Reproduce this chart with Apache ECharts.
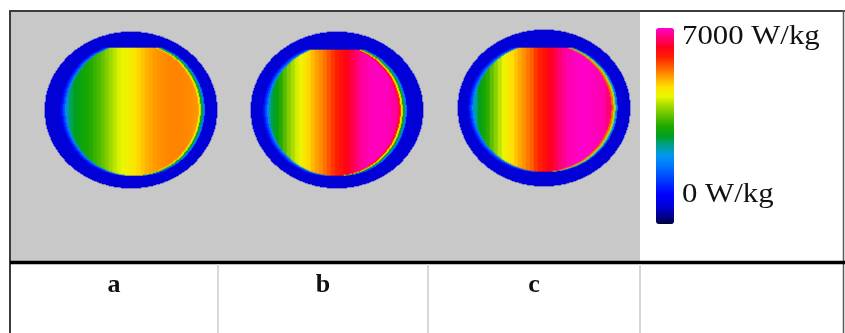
<!DOCTYPE html>
<html>
<head>
<meta charset="utf-8">
<script src="https://cdn.jsdelivr.net/npm/echarts@6/dist/echarts.min.js"></script>
<style>
  html, body { margin: 0; padding: 0; background: #fff; }
  #chart { width: 845px; height: 333px; }
</style>
</head>
<body>
<div id="chart"></div>
<script>
// labels of the table row under the discs
const panelLabels = ['a', 'b', 'c'];
const scaleLabels = ['7000 W/kg', '0 W/kg'];
const scaleMin = 0;
const scaleMax = 7000;

// W/kg read across each disc, one value per 4 px column (= 4 heatmap cells)
const profileA = [650, 650, 650, 650, 650, 2700, 2950, 3150, 3250, 3350, 3450, 3550, 3650, 3750, 3900,
  4050, 4200, 4350, 4480, 4580, 4650, 4750, 4850, 4950, 5050, 5150, 5220, 5280, 5320, 5350,
  5380, 5400, 5400, 5400, 5400, 5380, 5350, 5320, 5300, 650, 650, 650, 650];
const profileB = [650, 650, 650, 650, 2700, 3050, 3300, 3550, 3800, 4050, 4250, 4450, 4620, 4800, 4950,
  5100, 5250, 5350, 5500, 5650, 5800, 5950, 6080, 6200, 6350, 6500, 6650, 6780, 6850, 6900,
  6950, 6950, 6950, 6950, 6900, 6850, 6800, 6600, 650, 650, 650, 650, 650];
const profileC = [650, 650, 650, 650, 2800, 3200, 3400, 3600, 3850, 4100, 4350, 4580, 4750, 4900, 5050,
  5200, 5320, 5450, 5600, 5800, 5950, 6080, 6200, 6350, 6500, 6650, 6780, 6880, 6930, 6960,
  6980, 6980, 6980, 6960, 6930, 6900, 6850, 6700, 6600, 650, 650, 650, 650];

// blue rim around the hot zone
const rimValues = [650, 650, 650];
// fringe right of the hot zone (going outward) and left of it, 2 cells each
const edgeRightA = [4650, 3300, 2300];
const edgeRightB = [6100, 4900, 3300, 2300];
const edgeRightC = [5600, 4300, 2400];
const edgeLeftA = [2300, 1700, 1200];
const edgeLeftB = [2300, 1700, 1200];
const edgeLeftC = [2300, 1700, 1200];

// hot zone outline in cells: centre x, centre y, radius x, radius y, first row
const zoneA = [88, 78, 65.8, 66, 16];
const zoneB = [83, 79, 64.8, 65, 18];
const zoneC = [85, 78, 68.6, 64, 18];

const COLS = 172;
const ROWS = 156;
const colIds = [];
const rowIds = [];
for (let i = 0; i < COLS; i++) colIds.push(i);
for (let j = 0; j < ROWS; j++) rowIds.push(j);

function buildDisc(profile, zone, rim, edgeL, edgeR) {
  const [zx, zy, zrx, zry, top] = zone;
  const out = [];
  for (let j = 0; j < ROWS; j++) {
    const vy = (j + 0.5 - ROWS / 2) / (ROWS / 2);
    let lo = 1, hi = 0;
    const dy = (j + 0.5 - zy) / zry;
    if (j >= top && Math.abs(dy) <= 1) {
      const half = zrx * Math.sqrt(1 - dy * dy);
      lo = Math.ceil(zx - half - 0.5);
      hi = Math.floor(zx + half - 0.5);
    }
    const hasZone = lo <= hi;
    for (let i = 0; i < COLS; i++) {
      const vx = (i + 0.5 - COLS / 2) / (COLS / 2);
      if (vx * vx + vy * vy > 1) continue;
      let v = rim;
      if (hasZone) {
        const r = Math.floor((i - hi - 1) / 2);
        const l = Math.floor((lo - i - 1) / 2);
        if (i >= lo && i <= hi) v = profile[Math.floor(i / 4)];
        else if (i > hi && r < edgeR.length) v = edgeR[r];
        else if (i < lo && l < edgeL.length) v = edgeL[l];
      }
      out.push([i, j, v]);
    }
  }
  return out;
}

const discs = [
  buildDisc(profileA, zoneA, rimValues[0], edgeLeftA, edgeRightA),
  buildDisc(profileB, zoneB, rimValues[1], edgeLeftB, edgeRightB),
  buildDisc(profileC, zoneC, rimValues[2], edgeLeftC, edgeRightC)
];

const gridPos = [
  { left: 45, top: 32 },
  { left: 251, top: 32 },
  { left: 458, top: 30 }
];

const colorRamp = ['#000040', '#0000a0', '#0000e0', '#0000ff', '#0028ff', '#0050ff', '#0078ff',
  '#0098f0', '#00a090', '#00a020', '#20a800', '#60c000', '#a0d800', '#e8f800', '#ffe000',
  '#ffa000', '#ff6000', '#ff2000', '#ff0020', '#ff0070', '#ff00cc'];

const chart = echarts.init(document.getElementById('chart'), null, { renderer: 'canvas' });

const serif = "'Liberation Serif', 'DejaVu Serif', serif";
const cellCenters = [114, 323, 534];
const lineColor = '#3c3c3c';

const graphic = [
  { type: 'rect', z: 0, shape: { x: 11, y: 12, width: 629, height: 249 }, style: { fill: '#c8c8c8' } },
  { type: 'line', z: 5, shape: { x1: 9, y1: 11, x2: 845, y2: 11 }, style: { stroke: lineColor, lineWidth: 2 } },
  { type: 'line', z: 5, shape: { x1: 10, y1: 10, x2: 10, y2: 333 }, style: { stroke: lineColor, lineWidth: 2 } },
  { type: 'line', z: 5, shape: { x1: 843.5, y1: 10, x2: 843.5, y2: 333 }, style: { stroke: '#5a5a5a', lineWidth: 1.5 } },
  { type: 'line', z: 5, shape: { x1: 10, y1: 262.5, x2: 845, y2: 262.5 }, style: { stroke: '#000', lineWidth: 3.5 } }
];
[218, 428, 640].forEach(x => {
  graphic.push({ type: 'line', z: 5, shape: { x1: x, y1: 264, x2: x, y2: 333 }, style: { stroke: '#d8d8d8', lineWidth: 2 } });
});
panelLabels.forEach((t, k) => {
  graphic.push({
    type: 'text', z: 5, x: cellCenters[k], y: 285,
    style: { text: t, fill: '#111', font: 'bold 26px ' + serif, align: 'center', verticalAlign: 'middle' }
  });
});
graphic.push({
  type: 'text', z: 5, x: 682, y: 37, scaleX: 1.1,
  style: { text: scaleLabels[0], fill: '#111', font: '28px ' + serif, align: 'left', verticalAlign: 'middle' }
});
graphic.push({
  type: 'text', z: 5, x: 682, y: 195, scaleX: 1.1,
  style: { text: scaleLabels[1], fill: '#111', font: '28px ' + serif, align: 'left', verticalAlign: 'middle' }
});

const option = {
  backgroundColor: '#fff',
  animation: false,
  grid: gridPos.map(p => ({ left: p.left, top: p.top, width: COLS, height: ROWS, containLabel: false })),
  xAxis: gridPos.map((p, k) => ({ type: 'category', gridIndex: k, data: colIds, show: false })),
  yAxis: gridPos.map((p, k) => ({ type: 'category', gridIndex: k, data: rowIds, inverse: true, show: false })),
  visualMap: {
    type: 'continuous',
    min: scaleMin,
    max: scaleMax,
    calculable: false,
    orient: 'vertical',
    left: 656,
    top: 28,
    itemWidth: 18,
    itemHeight: 196,
    padding: 0,
    hoverLink: false,
    seriesIndex: [0, 1, 2],
    inRange: { color: colorRamp }
  },
  graphic: graphic,
  series: discs.map((d, k) => ({
    type: 'heatmap',
    xAxisIndex: k,
    yAxisIndex: k,
    data: d,
    progressive: 0,
    silent: true,
    itemStyle: { borderWidth: 0 }
  }))
};

chart.setOption(option);
</script>
</body>
</html>
